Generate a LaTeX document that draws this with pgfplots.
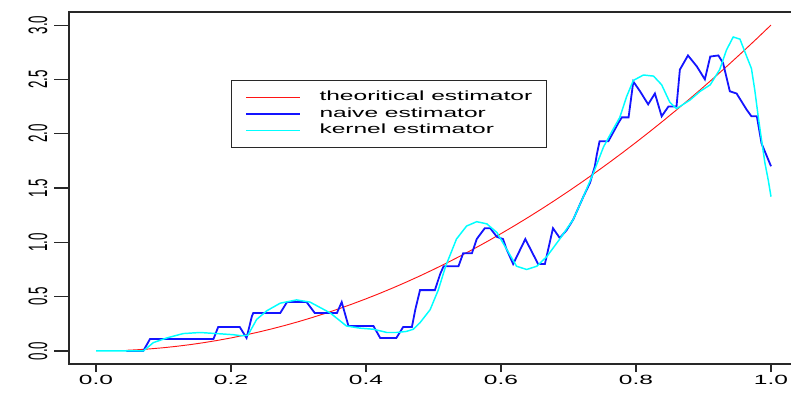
\documentclass[border=0pt]{standalone}
\usepackage{pgfplots}
\pgfplotsset{compat=1.18}
\usepackage{fontspec}
\setmainfont{Liberation Sans}
% the output device stretches everything horizontally
\newfontfamily\widefont{Liberation Sans}[FakeStretch=1.84]
\newfontfamily\tallfont{Liberation Sans}[FakeStretch=0.5]
\definecolor{rred}{RGB}{255,20,20}
\definecolor{rblue}{RGB}{20,20,255}
\definecolor{rcyan}{RGB}{0,255,255}
\definecolor{raxis}{RGB}{40,40,40}

\begin{document}
\begin{tikzpicture}
\begin{axis}[
  at={(51.75pt,-273pt)}, anchor=south west,
  scale only axis, width=546.75pt, height=264pt,
  xmin=-0.04, xmax=1.04, ymin=-0.12, ymax=3.12,
  axis line style={raxis, line width=0.8pt},
  tick align=outside,
  xtick pos=bottom, ytick pos=left,
  xtick={0,0.2,0.4,0.6,0.8,1},
  xticklabels={0.0,0.2,0.4,0.6,0.8,1.0},
  ytick={0,0.5,1,1.5,2,2.5,3},
  yticklabels={0.0,0.5,1.0,1.5,2.0,2.5,3.0},
  x tick style={/pgfplots/major tick length=6pt, raxis, line width=0.8pt},
  y tick style={/pgfplots/major tick length=11pt, raxis, line width=0.8pt},
  xticklabel style={font=\widefont\fontsize{10}{12}\selectfont, anchor=center},
  yticklabel style={font=\tallfont\fontsize{20}{22}\selectfont, rotate=90, anchor=center},
  xticklabel shift=7.5pt,
  yticklabel shift=19pt,
  legend style={at={(0.2222,0.8068)}, anchor=north west,
    draw=raxis, line width=0.6pt, fill=white,
    font=\widefont\fontsize{10}{12}\selectfont,
    inner xsep=10.5pt, inner ysep=7.5pt,
    row sep=2.5pt, column sep=14pt,
    nodes={inner sep=0pt, text height=7.5pt, text depth=2.5pt}},
  legend cell align=left,
  legend image code/.code={\path (0pt,0pt) -- (40.25pt,0pt);
    \draw[#1] (5.25pt,0pt) -- (40.25pt,0pt);},
]
% theoretical density 3x^2 at the sample points
\addplot[rred, line width=0.7pt] coordinates {
(0.045,0.0061)(0.06,0.0108)(0.08,0.0192)(0.10,0.03)(0.12,0.0432)(0.14,0.0588)
(0.16,0.0768)(0.18,0.0972)(0.20,0.12)(0.22,0.1452)(0.24,0.1728)(0.26,0.2028)
(0.28,0.2352)(0.30,0.27)(0.32,0.3072)(0.34,0.3468)(0.36,0.3888)(0.38,0.4332)
(0.40,0.48)(0.42,0.5292)(0.44,0.5808)(0.46,0.6348)(0.48,0.6912)(0.50,0.75)
(0.52,0.8112)(0.54,0.8748)(0.56,0.9408)(0.58,1.0092)(0.60,1.08)(0.62,1.1532)
(0.64,1.2288)(0.66,1.3068)(0.68,1.3872)(0.70,1.47)(0.72,1.5552)(0.74,1.6428)
(0.76,1.7328)(0.78,1.8252)(0.80,1.92)(0.82,2.0172)(0.84,2.1168)(0.86,2.2188)
(0.88,2.3232)(0.90,2.43)(0.92,2.5392)(0.94,2.6508)(0.96,2.7648)(0.98,2.8812)
(1.00,3.0)};
\addlegendentry{theoritical estimator}
% naive (histogram-type) estimator
\addplot[rblue, line width=1.35pt] coordinates {
(0.045,0)(0.07,0)(0.08,0.11)(0.174,0.11)(0.181,0.22)(0.213,0.22)(0.223,0.12)
(0.231,0.32)(0.233,0.35)(0.273,0.35)(0.283,0.45)(0.312,0.45)(0.324,0.35)
(0.357,0.35)(0.364,0.45)(0.374,0.23)(0.411,0.23)(0.421,0.12)(0.445,0.12)
(0.455,0.22)(0.468,0.22)(0.473,0.38)(0.48,0.56)(0.502,0.56)(0.51,0.71)
(0.515,0.78)(0.537,0.78)(0.544,0.9)(0.557,0.9)(0.564,1.03)(0.576,1.13)
(0.584,1.13)(0.594,1.05)(0.603,1.03)(0.608,0.94)(0.618,0.8)(0.636,1.03)
(0.655,0.8)(0.665,0.8)(0.677,1.13)(0.687,1.04)(0.697,1.11)(0.707,1.21)
(0.722,1.42)(0.732,1.55)(0.739,1.70)(0.742,1.81)(0.746,1.93)(0.759,1.93)
(0.774,2.1)(0.779,2.15)(0.789,2.15)(0.796,2.48)(0.806,2.39)(0.818,2.27)
(0.828,2.37)(0.838,2.16)(0.848,2.25)(0.86,2.25)(0.865,2.59)(0.877,2.72)
(0.89,2.62)(0.902,2.5)(0.91,2.71)(0.922,2.72)(0.929,2.65)(0.939,2.39)
(0.949,2.37)(0.964,2.22)(0.971,2.16)(0.979,2.16)(0.986,1.91)(1.0,1.7)};
\addlegendentry{naive estimator}
% kernel estimator
\addplot[rcyan, line width=1.1pt] coordinates {
(0,0)(0.07,0)(0.085,0.077)(0.105,0.12)(0.129,0.16)(0.154,0.17)(0.179,0.16)
(0.203,0.15)(0.215,0.14)(0.225,0.145)(0.238,0.29)(0.253,0.37)(0.273,0.44)
(0.297,0.47)(0.317,0.45)(0.332,0.40)(0.347,0.35)(0.361,0.28)(0.371,0.23)
(0.391,0.21)(0.411,0.20)(0.431,0.17)(0.445,0.17)(0.46,0.18)(0.47,0.2)
(0.48,0.26)(0.495,0.38)(0.507,0.56)(0.518,0.78)(0.534,1.03)(0.549,1.15)
(0.564,1.19)(0.579,1.17)(0.594,1.09)(0.608,0.94)(0.623,0.78)(0.638,0.75)
(0.653,0.78)(0.668,0.87)(0.687,1.03)(0.707,1.21)(0.722,1.42)(0.737,1.64)
(0.752,1.88)(0.766,2.04)(0.776,2.15)(0.786,2.34)(0.796,2.49)(0.811,2.54)
(0.826,2.53)(0.838,2.45)(0.850,2.29)(0.860,2.23)(0.880,2.31)(0.895,2.39)
(0.910,2.45)(0.924,2.59)(0.934,2.77)(0.944,2.89)(0.954,2.87)(0.964,2.71)
(0.971,2.60)(0.976,2.4)(0.981,2.16)(0.986,1.94)(0.991,1.73)(0.996,1.57)
(1.0,1.42)};
\addlegendentry{kernel estimator}
\end{axis}
\pgfresetboundingbox
\useasboundingbox (0pt,0pt) rectangle (593.25pt,-297pt);
\end{tikzpicture}
\end{document}
